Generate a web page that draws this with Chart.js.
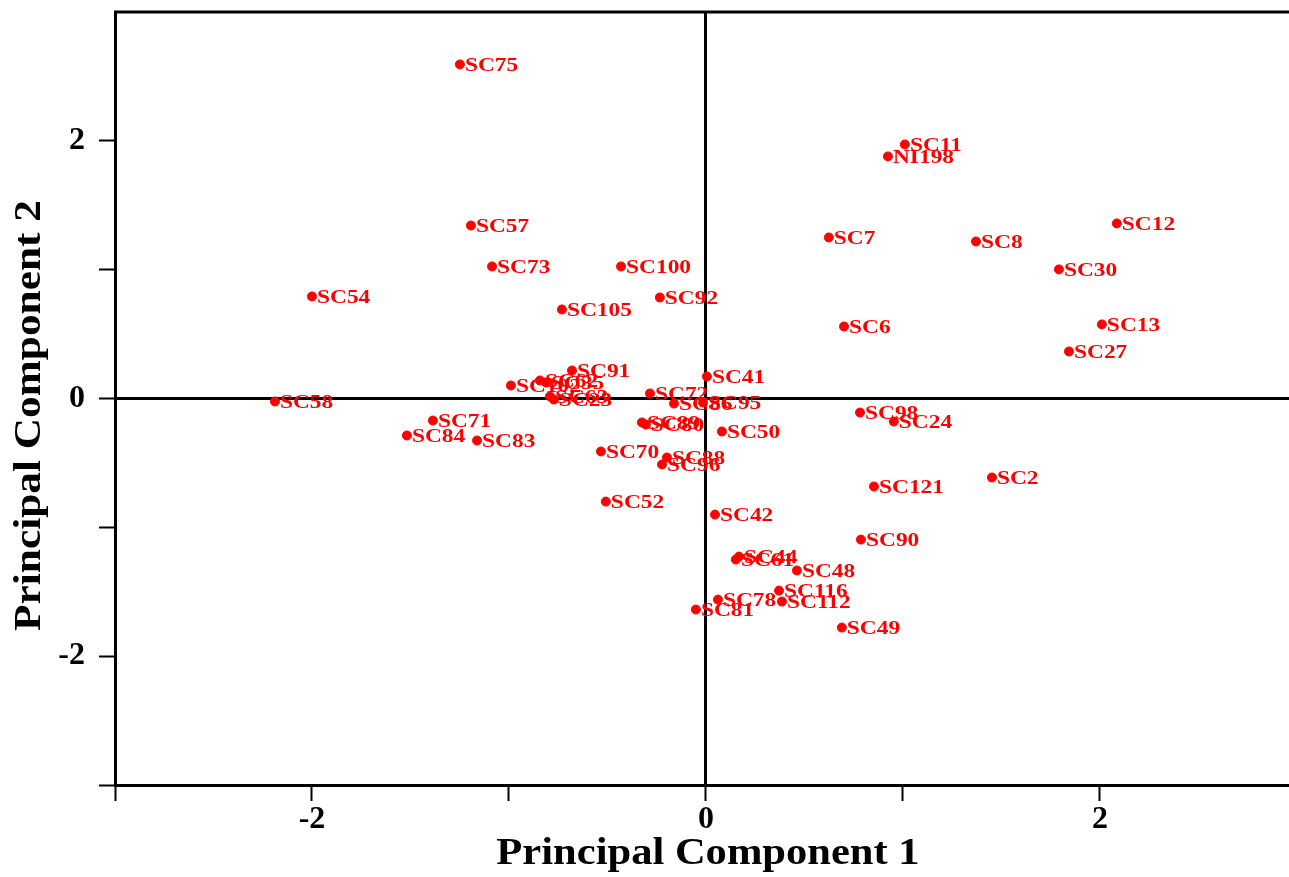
<!DOCTYPE html>
<html>
<head>
<meta charset="utf-8">
<title>PCA score plot</title>
<script src="https://cdn.jsdelivr.net/npm/chart.js@4.4.1/dist/chart.umd.min.js"></script>
<style>
  html, body { margin: 0; padding: 0; background: #fff; }
  #wrap { width: 1289px; height: 877px; }
</style>
</head>
<body>
<div id="wrap"><canvas id="pca" width="1289" height="877"></canvas></div>
<script>
// genotype names and their scores on the first two components
const names = [
  "SC75", "SC11", "NI198", "SC12", "SC57", "SC7", "SC8", "SC73", "SC100", "SC30",
  "SC54", "SC92", "SC105", "SC13", "SC6", "SC27", "SC91", "SC41", "SC102", "SC62",
  "SC35", "SC63", "SC23", "SC72", "SC86", "SC95", "SC89", "SC80", "SC50", "SC70",
  "SC88", "SC96", "SC71", "SC84", "SC83", "SC58", "SC98", "SC24", "SC2", "SC121",
  "SC52", "SC42", "SC90", "SC44", "SC61", "SC48", "SC116", "SC112", "SC78", "SC81",
  "SC49"
];

const pc1 = [
  -1.249, 1.010, 0.924, 2.086, -1.193, 0.624, 1.371, -1.086, -0.431, 1.792,
  -2.000, -0.234, -0.731, 2.010, 0.701, 1.843, -0.680, 0.005, -0.990, -0.843,
  -0.812, -0.792, -0.772, -0.284, -0.162, -0.015, -0.325, -0.305, 0.081, -0.533,
  -0.198, -0.223, -1.386, -1.518, -1.162, -2.188, 0.782, 0.954, 1.452, 0.853,
  -0.508, 0.046, 0.787, 0.168, 0.152, 0.462, 0.371, 0.386, 0.061, -0.051,
  0.690
];

const pc2 = [
  2.593, 1.972, 1.879, 1.359, 1.343, 1.250, 1.219, 1.025, 1.025, 1.002,
  0.792, 0.784, 0.691, 0.575, 0.559, 0.365, 0.217, 0.171, 0.101, 0.140,
  0.124, 0.016, -0.008, 0.039, -0.039, -0.031, -0.186, -0.202, -0.256, -0.411,
  -0.458, -0.512, -0.171, -0.287, -0.326, -0.023, -0.109, -0.179, -0.613, -0.683,
  -0.800, -0.901, -1.095, -1.227, -1.250, -1.335, -1.491, -1.576, -1.561, -1.638,
  -1.778
];

const tickLabels = [-2, 0, 2];

const red = "rgb(255, 0, 0)";
const serif = '"Liberation Serif", "Times New Roman", serif';

// writes each genotype name just right of its point
const pointLabels = {
  id: "pointLabels",
  afterDatasetsDraw(chart) {
    const ctx = chart.ctx;
    const meta = chart.getDatasetMeta(0);
    ctx.save();
    ctx.fillStyle = red;
    ctx.font = "bold 18px " + serif;
    ctx.textBaseline = "middle";
    meta.data.forEach((pt, i) => {
      ctx.save();
      ctx.translate(pt.x + 5, pt.y + 2);
      ctx.scale(1.3, 1);
      ctx.fillText(names[i], 0, 0);
      ctx.restore();
    });
    ctx.restore();
  },
};

// frame line along the top and the two axis titles
const frameAndTitles = {
  id: "frameAndTitles",
  afterDraw(chart) {
    const ctx = chart.ctx;
    const area = chart.chartArea;
    ctx.save();
    ctx.strokeStyle = "#000";
    ctx.lineWidth = 3;
    ctx.beginPath();
    ctx.moveTo(area.left - 1, area.top);
    ctx.lineTo(area.right, area.top);
    ctx.stroke();

    ctx.fillStyle = "#000";
    ctx.font = "bold 38px " + serif;
    ctx.textAlign = "center";
    ctx.textBaseline = "middle";

    ctx.save();
    ctx.translate((area.left + area.right) / 2 + 6, 854);
    ctx.scale(1.12, 1);
    ctx.fillText("Principal Component 1", 0, 0);
    ctx.restore();

    ctx.save();
    ctx.translate(30, (area.top + area.bottom) / 2 + 17);
    ctx.rotate(-Math.PI / 2);
    ctx.scale(1.14, 1);
    ctx.fillText("Principal Component 2", 0, 0);
    ctx.restore();

    ctx.restore();
  },
};

const zeroLine = (c) => (c.tick && c.tick.value === 0 ? "#000" : "rgba(0,0,0,0)");
// no tick mark at the very top of the y axis
const tickText = (v) => (v === 3 ? null : tickLabels.includes(v) ? String(v) : "");

function drawChart() {
  new Chart(document.getElementById("pca").getContext("2d"), {
    type: "scatter",
    data: {
      datasets: [
        {
          label: "PCA scores",
          data: pc1.map((x, i) => ({ x: x, y: pc2[i] })),
          backgroundColor: red,
          borderColor: red,
          pointRadius: 4.5,
          pointHoverRadius: 4.5,
        },
      ],
    },
    options: {
      responsive: false,
      animation: false,
      events: [],
      layout: { autoPadding: false, padding: { top: 12, right: 0, bottom: 0, left: 0 } },
      plugins: {
        legend: { display: false },
        tooltip: { enabled: false },
      },
      scales: {
        x: {
          type: "linear",
          min: -3,
          max: 2.96,
          afterFit: (scale) => {
            scale.height = 92;
            scale.paddingLeft = 0;
            scale.paddingRight = 0;
          },
          border: { display: true, color: "#000", width: 3 },
          grid: {
            color: zeroLine,
            lineWidth: 3,
            drawTicks: true,
            tickLength: 16,
            tickColor: "#000",
            tickWidth: 2,
          },
          ticks: {
            stepSize: 1,
            includeBounds: false,
            autoSkip: false,
            maxRotation: 0,
            color: "#000",
            padding: 0,
            font: { family: serif, size: 32, weight: "bold" },
            callback: tickText,
          },
        },
        y: {
          type: "linear",
          min: -3,
          max: 3,
          afterFit: (scale) => {
            scale.width = 115;
            scale.paddingTop = 0;
            scale.paddingBottom = 0;
          },
          border: { display: true, color: "#000", width: 3 },
          grid: {
            color: zeroLine,
            lineWidth: 3,
            drawTicks: true,
            tickLength: 16,
            tickColor: "#000",
            tickWidth: 2,
          },
          ticks: {
            stepSize: 1,
            includeBounds: false,
            autoSkip: false,
            color: "#000",
            padding: 14,
            font: { family: serif, size: 32, weight: "bold" },
            callback: tickText,
          },
        },
      },
    },
    plugins: [pointLabels, frameAndTitles],
  });
}

// make sure the serif face is ready before the canvas text is drawn
Promise.all([
  document.fonts.load('bold 18px "Liberation Serif"'),
  document.fonts.load('bold 38px "Liberation Serif"'),
]).then(drawChart, drawChart);
</script>
</body>
</html>
